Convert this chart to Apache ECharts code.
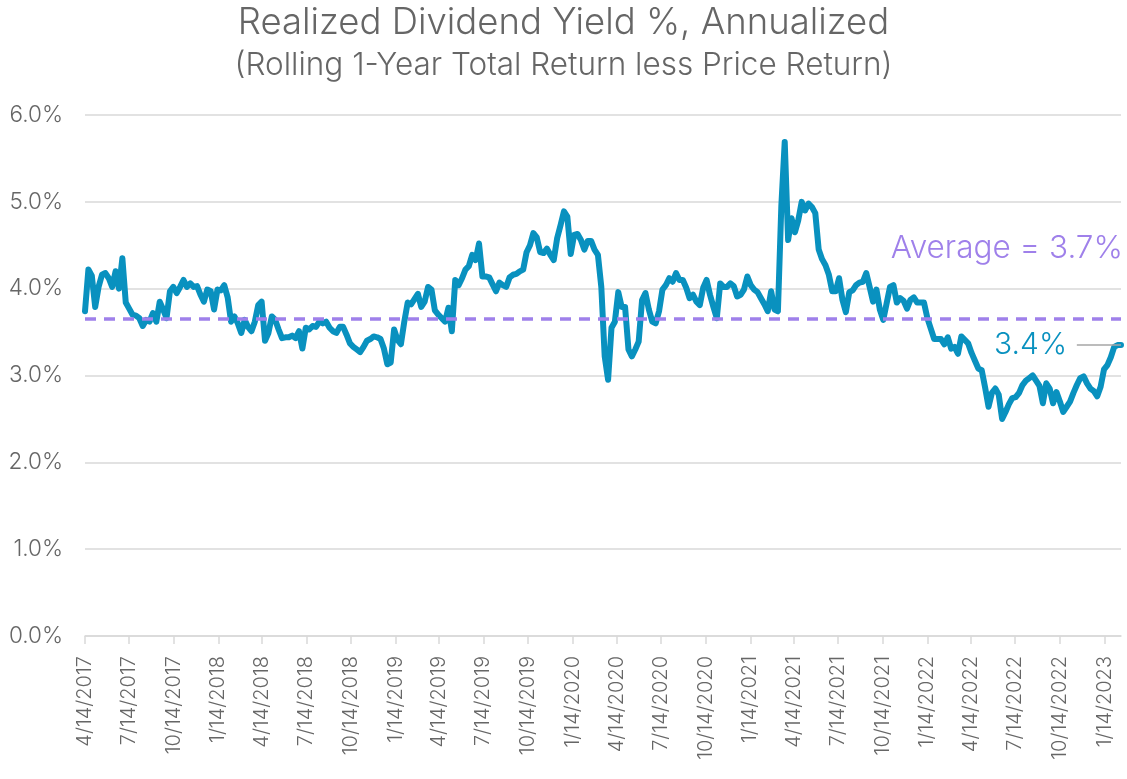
<!DOCTYPE html>
<html>
<head>
<meta charset="utf-8">
<title>Realized Dividend Yield</title>
<script src="https://cdn.jsdelivr.net/npm/echarts@6/dist/echarts.min.js"></script>
<style>
  html, body { margin: 0; padding: 0; background: #fff; }
  #chart { width: 1127px; height: 779px; }
</style>
</head>
<body>
<div id="chart"></div>
<script>
// weekly readings, first one on 4/14/2017
const startDate = '2017-04-14';
const endDate = '2023-02-17';
const stepDays = 7;

const weeklyYield = [
  3.74, 4.22, 4.15, 3.79, 4.02, 4.16, 4.18, 4.12, 4.02, 4.20,
  4.00, 4.35, 3.84, 3.77, 3.70, 3.69, 3.66, 3.57, 3.64, 3.62,
  3.72, 3.62, 3.85, 3.76, 3.66, 3.97, 4.02, 3.95, 4.02, 4.10,
  4.02, 4.06, 4.02, 4.03, 3.93, 3.85, 3.99, 3.97, 3.76, 3.99,
  3.98, 4.04, 3.90, 3.62, 3.68, 3.60, 3.49, 3.64, 3.56, 3.51,
  3.62, 3.81, 3.85, 3.40, 3.49, 3.68, 3.64, 3.53, 3.43, 3.44,
  3.44, 3.46, 3.43, 3.51, 3.31, 3.55, 3.53, 3.57, 3.56, 3.62,
  3.60, 3.62, 3.55, 3.51, 3.49, 3.56, 3.56, 3.47, 3.37, 3.33,
  3.30, 3.27, 3.33, 3.40, 3.42, 3.45, 3.44, 3.42, 3.31, 3.13,
  3.15, 3.53, 3.41, 3.36, 3.62, 3.84, 3.82, 3.88, 3.94, 3.79,
  3.85, 4.02, 3.99, 3.75, 3.70, 3.66, 3.62, 3.78, 3.51, 4.10,
  4.04, 4.12, 4.22, 4.26, 4.39, 4.33, 4.52, 4.14, 4.14, 4.13,
  4.05, 3.97, 4.07, 4.04, 4.02, 4.13, 4.16, 4.17, 4.20, 4.22,
  4.42, 4.50, 4.64, 4.59, 4.42, 4.41, 4.46, 4.39, 4.33, 4.58,
  4.73, 4.89, 4.83, 4.40, 4.62, 4.63, 4.56, 4.45, 4.55, 4.55,
  4.45, 4.39, 4.02, 3.22, 2.95, 3.55, 3.62, 3.96, 3.79, 3.79,
  3.30, 3.22, 3.30, 3.39, 3.87, 3.95, 3.76, 3.62, 3.60, 3.74,
  3.99, 4.04, 4.12, 4.08, 4.18, 4.10, 4.10, 4.01, 3.89, 3.93,
  3.85, 3.81, 4.01, 4.10, 3.93, 3.79, 3.66, 4.06, 4.02, 4.02,
  4.06, 4.03, 3.91, 3.93, 3.99, 4.14, 4.04, 3.99, 3.96, 3.89,
  3.82, 3.74, 3.97, 3.76, 3.74, 4.95, 5.69, 4.56, 4.81, 4.65,
  4.79, 5.00, 4.90, 4.98, 4.94, 4.87, 4.45, 4.34, 4.27, 4.16,
  3.97, 3.97, 4.12, 3.87, 3.73, 3.96, 3.98, 4.04, 4.07, 4.08,
  4.18, 4.02, 3.85, 3.99, 3.76, 3.64, 3.83, 4.02, 4.04, 3.84,
  3.89, 3.86, 3.77, 3.87, 3.90, 3.84, 3.84, 3.84, 3.66, 3.54,
  3.42, 3.42, 3.42, 3.36, 3.44, 3.31, 3.33, 3.25, 3.45, 3.41,
  3.37, 3.26, 3.17, 3.08, 3.06, 2.86, 2.64, 2.80, 2.85, 2.78,
  2.50, 2.58, 2.67, 2.74, 2.75, 2.80, 2.89, 2.94, 2.97, 3.00,
  2.94, 2.88, 2.68, 2.91, 2.85, 2.68, 2.81, 2.70, 2.58, 2.64,
  2.70, 2.80, 2.89, 2.97, 2.99, 2.91, 2.85, 2.82, 2.76, 2.87,
  3.07, 3.12, 3.21, 3.33, 3.35, 3.35
];

const averageYield = 3.65;
const averageText = 'Average = 3.7%';
const yTicks = [0, 1, 2, 3, 4, 5, 6];
const labelMonths = [1, 4, 7, 10];
const labelDay = 14;

const TEAL = '#0991bf';
const PURPLE = '#9f80ea';
const GREY_TEXT = '#666666';
const GRID = '#d9d9d9';

function isoDay(d) {
  return d.toISOString().slice(0, 10);
}

// every calendar day is a category, so quarter labels sit on the 14th
const days = [];
for (let d = new Date(startDate + 'T00:00:00Z'); isoDay(d) <= endDate; d.setUTCDate(d.getUTCDate() + 1)) {
  days.push(isoDay(d));
}

function weekDate(i) {
  const d = new Date(startDate + 'T00:00:00Z');
  d.setUTCDate(d.getUTCDate() + i * stepDays);
  return isoDay(d);
}

const points = weeklyYield.map((v, i) => [weekDate(i), v]);
const lastIdx = points.length - 1;
const lastPoint = points[lastIdx];
// short grey leader from the end label to the last point
const leaderStart = [points[lastIdx - 13][0], lastPoint[1]];

function isQuarterTick(index, value) {
  const parts = value.split('-').map(Number);
  return parts[2] === labelDay && labelMonths.indexOf(parts[1]) >= 0;
}

function shortDate(value) {
  const parts = value.split('-').map(Number);
  return parts[1] + '/' + parts[2] + '/' + parts[0];
}

const chart = echarts.init(document.getElementById('chart'));

chart.setOption({
  animation: false,
  textStyle: { fontFamily: 'Inter, "Noto Sans", sans-serif' },
  title: {
    text: 'Realized Dividend Yield %, Annualized',
    subtext: '(Rolling 1-Year Total Return less Price Return)',
    left: 'center',
    top: 0,
    itemGap: 8,
    textStyle: { fontSize: 36.5, fontWeight: 300, color: GREY_TEXT, fontFamily: 'Inter' },
    subtextStyle: { fontSize: 31.5, fontWeight: 300, color: GREY_TEXT, fontFamily: 'Inter' }
  },
  grid: { left: 85, right: 6, top: 115, bottom: 143 },
  xAxis: {
    type: 'category',
    data: days,
    boundaryGap: false,
    axisLine: { lineStyle: { color: GRID, width: 1.5 } },
    axisTick: { interval: isQuarterTick, length: 8, lineStyle: { color: GRID, width: 1.5 } },
    axisLabel: {
      interval: isQuarterTick,
      rotate: 90,
      margin: 20,
      fontSize: 20,
      fontWeight: 300,
      color: GREY_TEXT,
      formatter: shortDate
    },
    splitLine: { show: false }
  },
  yAxis: {
    type: 'value',
    min: yTicks[0],
    max: yTicks[yTicks.length - 1],
    interval: 1,
    axisLine: { show: false },
    axisTick: { show: false },
    axisLabel: {
      margin: 22,
      fontSize: 22.5,
      fontWeight: 300,
      color: GREY_TEXT,
      formatter: v => v.toFixed(1) + '%'
    },
    splitLine: { lineStyle: { color: GRID, width: 1.5 } }
  },
  series: [
    {
      type: 'line',
      data: points,
      showSymbol: false,
      symbol: 'none',
      lineStyle: { color: TEAL, width: 6, join: 'round', cap: 'round' },
      z: 3,
      markLine: {
        silent: true,
        symbol: 'none',
        animation: false,
        data: [
          {
            yAxis: averageYield,
            lineStyle: { color: PURPLE, width: 3.5, type: [11, 8] },
            label: {
              show: true,
              position: 'insideEndTop',
              distance: [-2, 55],
              formatter: averageText,
              fontSize: 31.5,
              fontWeight: 300,
              color: PURPLE
            }
          },
          [
            { coord: leaderStart, lineStyle: { color: '#a6a6a6', width: 1.5, type: 'solid' }, label: { show: false } },
            { coord: lastPoint }
          ]
        ]
      },
      markPoint: {
        silent: true,
        symbol: 'circle',
        symbolSize: 0,
        data: [{ coord: lastPoint, value: lastPoint[1] }],
        label: {
          show: true,
          position: 'left',
          distance: 54,
          formatter: p => p.value.toFixed(1) + '%',
          fontSize: 30,
          fontWeight: 300,
          color: TEAL
        }
      }
    }
  ]
});

window.addEventListener('resize', function () {
  chart.resize();
});
</script>
</body>
</html>
